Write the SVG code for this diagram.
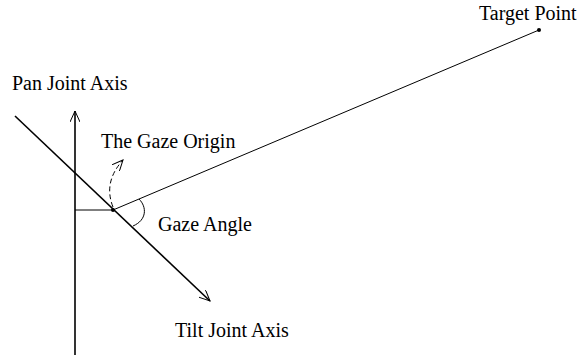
<svg xmlns="http://www.w3.org/2000/svg" width="582" height="362" viewBox="0 0 582 362">
<defs>
<style>
text{font-family:"Liberation Serif","Times New Roman",serif;font-size:20px;fill:#000}
.ln{stroke:#000;fill:none}
</style>
<marker id="ah" markerWidth="12" markerHeight="10" refX="11" refY="5" orient="auto" markerUnits="userSpaceOnUse"><path d="M0,0 L11,5 L0,10" fill="none" stroke="#000" stroke-width="1"/></marker>
</defs>
<rect width="582" height="362" fill="#fff"/>
<g id="connectors">
<line class="ln" x1="75" y1="355" x2="75" y2="111" stroke-width="1.6" marker-end="url(#ah)"/>
<line class="ln" x1="15" y1="116" x2="210" y2="301" stroke-width="1.6" marker-end="url(#ah)"/>
<line class="ln" x1="75" y1="210" x2="113" y2="210" stroke-width="1"/>
<line class="ln" x1="113" y1="210" x2="539" y2="30" stroke-width="1"/>
<path class="ln" d="M139,199 C147,207 147,220 133,226" stroke-width="1"/>
<path class="ln" d="M113,207 Q103,182 123,160" stroke-width="1" stroke-dasharray="5,3" marker-end="url(#ah)"/>
</g>
<g id="gaze-origin"><circle cx="113" cy="210" r="2"/><text x="101" y="148">The Gaze Origin</text></g>
<g id="target-point"><circle cx="539" cy="30" r="2"/><text x="479" y="20">Target Point</text></g>
<g id="pan-axis"><text x="12" y="90">Pan Joint Axis</text></g>
<g id="tilt-axis"><text x="175" y="337">Tilt Joint Axis</text></g>
<g id="gaze-angle"><text x="158" y="231">Gaze Angle</text></g>
</svg>
